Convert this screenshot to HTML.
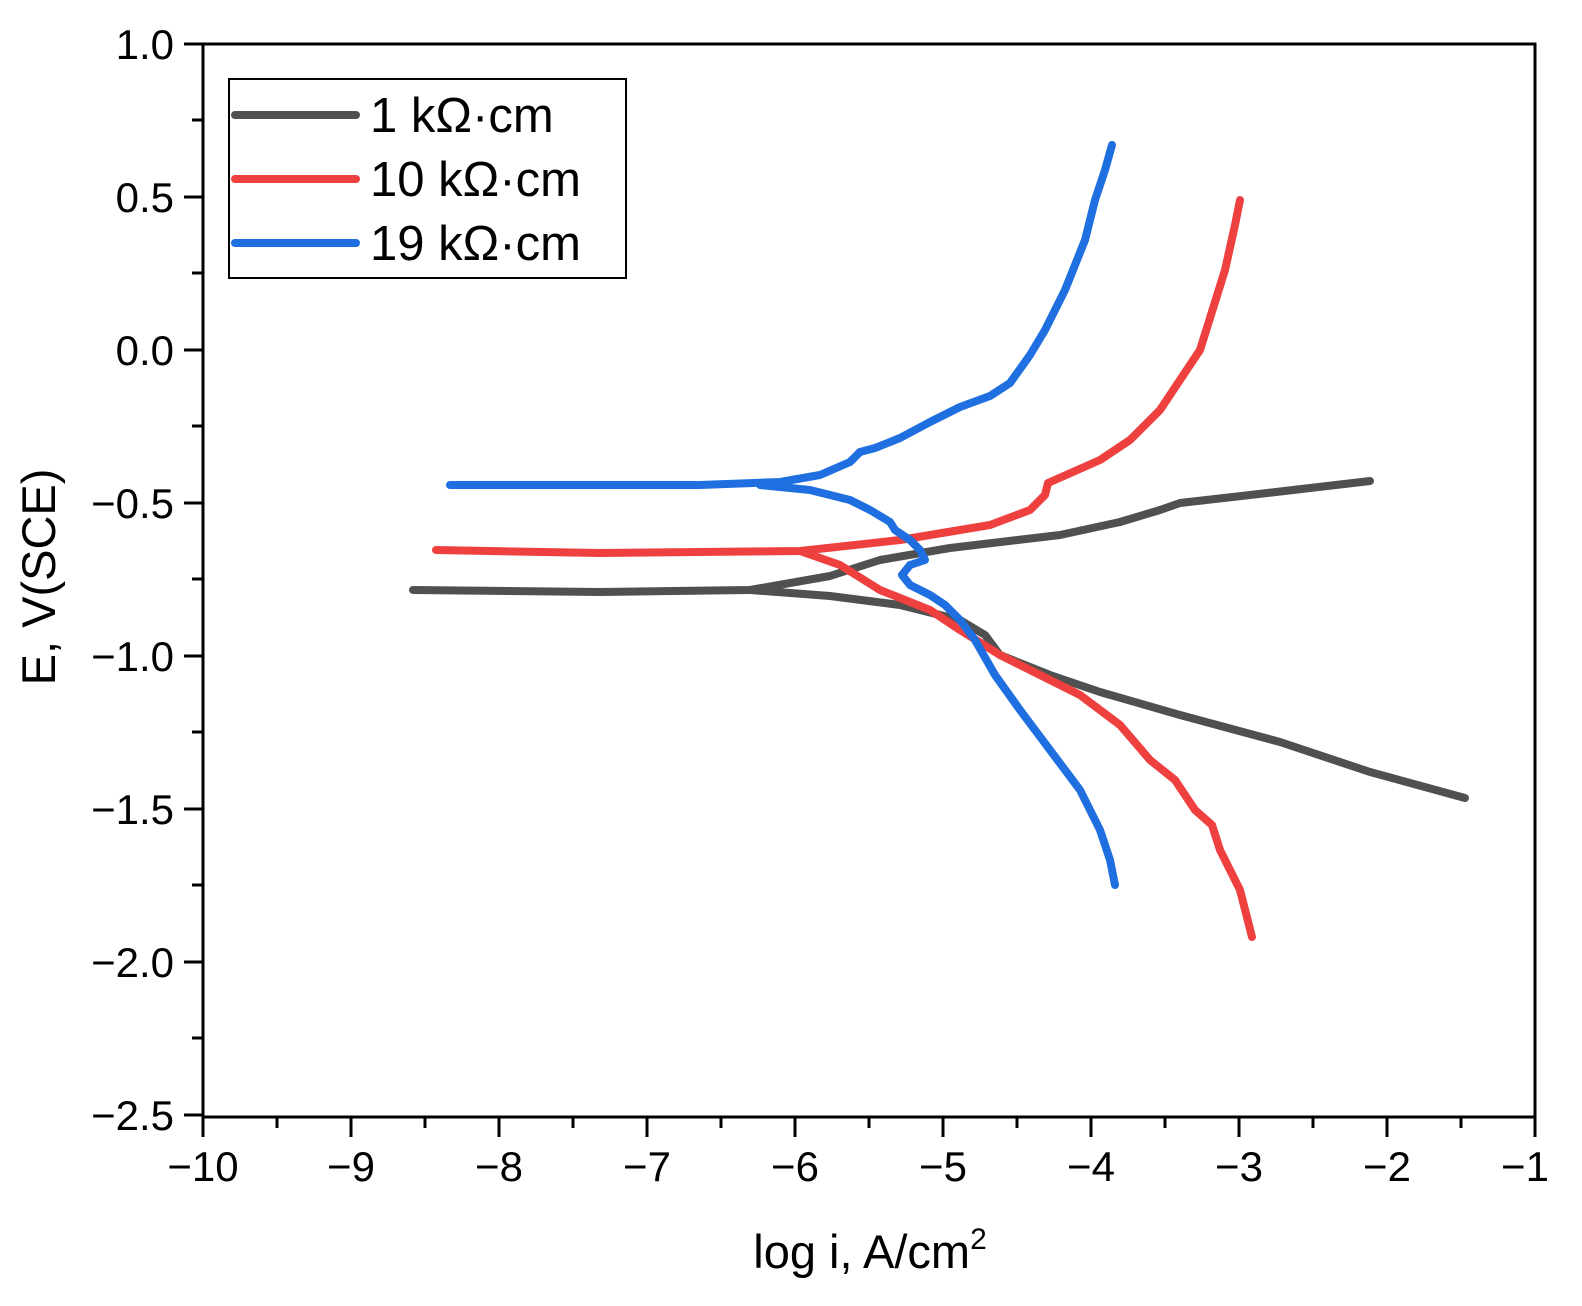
<!DOCTYPE html>
<html><head><style>body{margin:0;background:#fff}svg{display:block}</style></head><body>
<svg width="1582" height="1306" xmlns="http://www.w3.org/2000/svg" font-family="Liberation Sans, sans-serif">
<g stroke="#000" stroke-width="3" fill="none">
<rect x="203" y="44" width="1332" height="1073"/>
<path d="M203 1117v20M351 1117v20M499 1117v20M647 1117v20M795 1117v20M943 1117v20M1091 1117v20M1239 1117v20M1387 1117v20M1535 1117v20"/>
<path d="M277 1117v11M425 1117v11M573 1117v11M721 1117v11M869 1117v11M1017 1117v11M1165 1117v11M1313 1117v11M1461 1117v11"/>
<path d="M203 44h-19M203 197h-19M203 350h-19M203 503h-19M203 656h-19M203 809h-19M203 962h-19M203 1115h-19"/>
<path d="M203 120h-11M203 273h-11M203 426h-11M203 579h-11M203 732h-11M203 885h-11M203 1038h-11"/>
</g>
<g font-size="42" text-anchor="end">
<text x="174" y="59">1.0</text><text x="174" y="212">0.5</text><text x="174" y="365">0.0</text>
<text x="174" y="518">−0.5</text><text x="174" y="671">−1.0</text><text x="174" y="824">−1.5</text>
<text x="174" y="977">−2.0</text><text x="174" y="1130">−2.5</text>
</g>
<g font-size="42" text-anchor="middle">
<text x="203" y="1181">−10</text><text x="351" y="1181">−9</text><text x="499" y="1181">−8</text><text x="647" y="1181">−7</text><text x="795" y="1181">−6</text><text x="943" y="1181">−5</text><text x="1091" y="1181">−4</text><text x="1239" y="1181">−3</text><text x="1387" y="1181">−2</text><text x="1525" y="1181">−1</text>
</g>
<text x="870" y="1268" font-size="47" text-anchor="middle">log i, A/cm<tspan font-size="30" dy="-19">2</tspan></text>
<text transform="translate(55,577) rotate(-90)" font-size="47" text-anchor="middle">E, V(SCE)</text>
<g fill="none" stroke-width="8" stroke-linecap="round" stroke-linejoin="round">
<path stroke="#505050" d="M413 590L600 592L750 590L830 576L880 560L950 548L1060 535L1120 522L1160 510L1180 503L1250 495L1370 481"/>
<path stroke="#505050" d="M750 590L830 596L900 605L960 620L985 635L1000 655L1050 675L1100 692L1180 715L1280 742L1370 772L1465 798"/>
<path stroke="#ef4040" d="M436 550L600 553L800 551L900 540L990 525L1030 510L1045 495L1048 483L1100 460L1130 440L1160 410L1200 350L1225 270L1235 225L1240 200"/>
<path stroke="#ef4040" d="M800 551L840 565L880 590L930 610L960 630L1000 655L1040 675L1080 695L1120 725L1150 760L1175 780L1195 810L1212 825L1220 850L1240 890L1252 937"/>
<path stroke="#1f6fe0" d="M450 485L700 485L780 482L820 475L850 462L860 452L875 448L900 438L930 422L960 407L990 396L1010 383L1030 355L1045 330L1065 290L1085 240L1095 200L1105 170L1112 145"/>
<path stroke="#1f6fe0" d="M760 485L810 490L850 500L870 510L890 522L895 530L910 540L920 550L925 560L910 565L902 575L910 585L930 595L945 605L960 620L975 640L995 675L1020 710L1050 750L1080 790L1100 830L1110 860L1115 885"/>
</g>
<rect x="229" y="79" width="397" height="199" fill="#fff" stroke="#000" stroke-width="2"/>
<g stroke-width="8" stroke-linecap="round">
<line x1="235" y1="115" x2="356" y2="115" stroke="#505050"/>
<line x1="235" y1="179" x2="356" y2="179" stroke="#ef4040"/>
<line x1="235" y1="243" x2="356" y2="243" stroke="#1f6fe0"/>
</g>
<g font-size="49">
<text x="370" y="132">1 kΩ·cm</text>
<text x="370" y="196">10 kΩ·cm</text>
<text x="370" y="260">19 kΩ·cm</text>
</g>
</svg>
</body></html>
